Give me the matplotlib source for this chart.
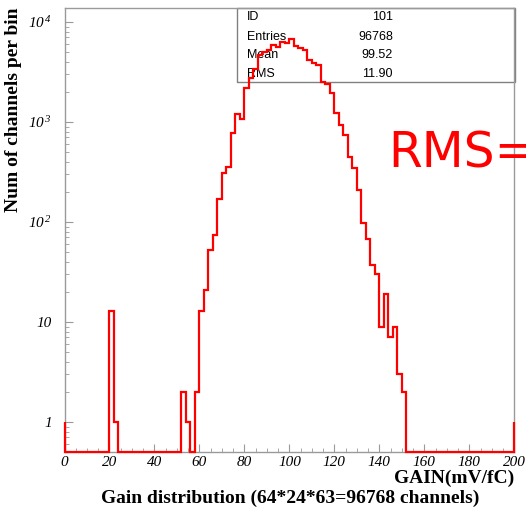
import numpy as np
import matplotlib
matplotlib.use("Agg")
import matplotlib.pyplot as plt
from matplotlib.patches import Rectangle
from matplotlib.ticker import FixedLocator, FixedFormatter, MultipleLocator, LogLocator, NullFormatter

# gain histogram, 100 bins of 2 mV/fC from 0 to 200
bin_edges = np.arange(0, 202, 2)
counts = np.zeros(100)
counts[10] = 13
counts[11] = 1
counts[26] = 2
counts[27] = 1
counts[29] = 2
counts[30:76] = [13, 21, 53, 74, 170, 311, 357, 770, 1200, 1075,
                 2200, 2750, 3400, 4700, 5000, 5300, 5900, 5600, 6300, 6200,
                 6700, 5700, 5500, 5300, 4200, 3900, 3700, 2530, 2400, 1940,
                 1220, 933, 741, 450, 344, 209, 97, 68, 37, 30,
                 9, 19, 7, 9, 3, 2]

stat_names = ["ID", "Entries", "Mean", "RMS"]
stat_values = ["101", "96768", "99.52", "11.90"]

x_ticks = list(range(0, 201, 20))
y_ticks = [1, 10, 100, 1000, 10000]
y_tick_labels = ["1", "10", r"$10^{\,2}$", r"$10^{\,3}$", r"$10^{\,4}$"]

plt.rcParams['mathtext.fontset'] = 'custom'
plt.rcParams['mathtext.rm'] = 'Liberation Serif:italic'
plt.rcParams['mathtext.it'] = 'Liberation Serif:italic'

W, H = 526, 509
fig = plt.figure(figsize=(W / 100, H / 100), dpi=100)
x0, x1, y_top, y_bot = 64.5, 514.3, 8, 452
ax = fig.add_axes([x0 / W, 1 - y_bot / H, (x1 - x0) / W, (y_bot - y_top) / H])

ymin, ymax = 10 ** -0.30, 10 ** 4.14
plot_vals = np.where(counts > 0, counts, ymin)
ax.stairs(plot_vals, bin_edges, baseline=1, color='red', lw=1.6, zorder=5, clip_on=False)

ax.set_yscale('log')
ax.set_xlim(0, 200)
ax.set_ylim(ymin, ymax)

gray = '#9a9a9a'
for s in ax.spines.values():
    s.set_color(gray)
    s.set_linewidth(1)

ax.xaxis.set_major_locator(FixedLocator(x_ticks))
ax.xaxis.set_minor_locator(MultipleLocator(5))
ax.yaxis.set_major_locator(FixedLocator(y_ticks))
ax.yaxis.set_major_formatter(FixedFormatter(y_tick_labels))
ax.yaxis.set_minor_locator(LogLocator(base=10, subs=np.arange(2, 10)))
ax.yaxis.set_minor_formatter(NullFormatter())

ax.tick_params(axis='both', which='both', direction='in', color=gray)
ax.tick_params(axis='x', which='major', length=6, pad=3)
ax.tick_params(axis='x', which='minor', length=3)
ax.tick_params(axis='y', which='major', length=6, pad=9)
ax.tick_params(axis='y', which='minor', length=3)
for lab in ax.get_xticklabels() + ax.get_yticklabels():
    lab.set_family('Liberation Serif')
    lab.set_style('italic')
    lab.set_fontsize(11)

ax.set_ylabel("Num of channels per bin", family='Liberation Serif', weight='bold',
              fontsize=14, loc='top')
ax.yaxis.set_label_coords(-(x0 - 22) / (x1 - x0), 1.0)

fig.text(514 / W, 1 - 483 / H, "GAIN(mV/fC)", family='Liberation Serif', weight='bold',
         fontsize=14, ha='right', va='baseline')
fig.text(290 / W, 1 - 503 / H, "Gain distribution (64*24*63=96768 channels)",
         family='Liberation Serif', weight='bold', fontsize=14, ha='center', va='baseline')

# stats box (drawn under the histogram line)
bx0, bx1, by0, by1 = 237.3, 515, 8.3, 81.7
ax.add_patch(Rectangle((bx0 / W, 1 - by1 / H), (bx1 - bx0) / W, (by1 - by0) / H,
                       transform=fig.transFigure, fill=False, ec='#808080', lw=1,
                       zorder=2, clip_on=False))
row_y = [17.3, 36.7, 55, 73.7]
for name, val, ry in zip(stat_names, stat_values, row_y):
    ax.text(247 / W, 1 - ry / H, name, transform=fig.transFigure, family='Liberation Sans',
            fontsize=9, ha='left', va='center', zorder=3)
    ax.text(393 / W, 1 - ry / H, val, transform=fig.transFigure, family='Liberation Sans',
            fontsize=9, ha='right', va='center', zorder=3)

fig.text(388 / W, 1 - 168 / H, "RMS=", color='red', fontsize=35, ha='left', va='baseline')

fig.savefig("out.png", dpi=100)
